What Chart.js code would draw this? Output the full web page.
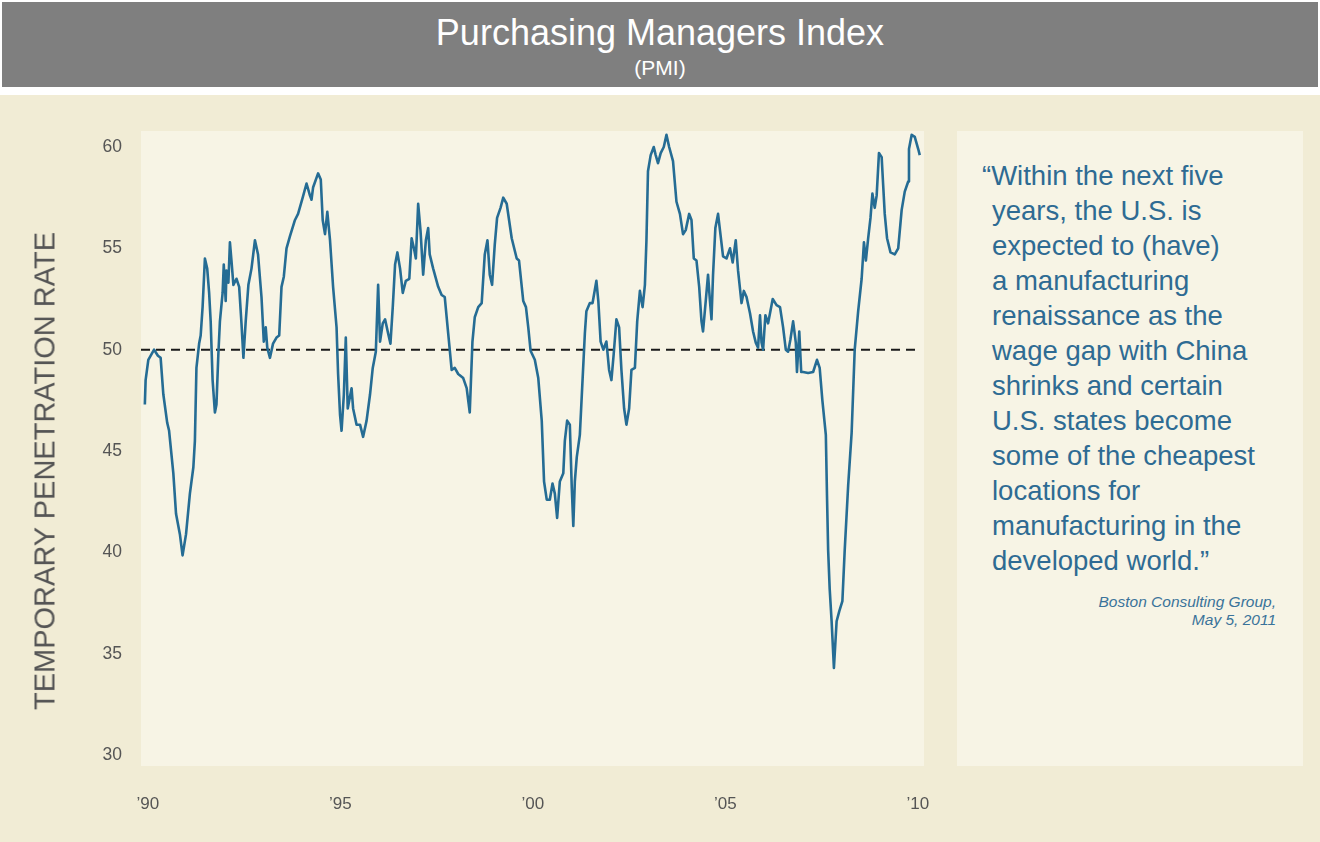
<!DOCTYPE html>
<html>
<head>
<meta charset="utf-8">
<title>Purchasing Managers Index</title>
<script src="https://cdn.jsdelivr.net/npm/chart.js@4/dist/chart.umd.min.js"></script>
<style>
  html, body { margin: 0; padding: 0; }
  body {
    width: 1320px; height: 842px; position: relative; overflow: hidden;
    background: #ffffff; font-family: "Liberation Sans", Arial, sans-serif;
  }
  .header {
    position: absolute; left: 2px; top: 2px; width: 1316px; height: 85px;
    background: #7f7f7f; color: #ffffff; text-align: center;
  }
  .header .main { position: absolute; left: 0; right: 0; top: 10px; font-size: 36px; }
  .header .sub { position: absolute; left: 0; right: 0; top: 54px; font-size: 21px; }
  .panel { position: absolute; left: 0; top: 95px; width: 1320px; height: 747px; background: #f1ecd5; }
  #wrap { position: absolute; left: 0; top: 95px; width: 940px; height: 747px; }
  .ytitle {
    position: absolute; left: 45px; top: 471px; transform: translate(-50%, -50%) rotate(-90deg);
    white-space: nowrap; font-size: 29px; color: #555555;
  }
  .quote {
    position: absolute; left: 957px; top: 131px; width: 346px; height: 635px; background: #f7f4e5;
  }
  .quote p {
    position: absolute; left: 35px; top: 27px; margin: 0; width: 310px;
    font-size: 27.5px; line-height: 35px; color: #2e6b93; text-indent: -10px;
  }
  .quote .src {
    position: absolute; right: 27px; top: 462px; text-align: right;
    font-size: 15.5px; line-height: 18px; font-style: italic; color: #3a739a;
  }
</style>
</head>
<body>
<div class="header">
  <div class="main">Purchasing Managers Index</div>
  <div class="sub">(PMI)</div>
</div>
<div class="panel"></div>
<div id="wrap"><canvas id="pmiChart" width="940" height="747"></canvas></div>
<div class="ytitle">TEMPORARY PENETRATION RATE</div>
<div class="quote">
  <p>“Within the next five<br>years, the U.S. is<br>expected to (have)<br>a manufacturing<br>renaissance as the<br>wage gap with China<br>shrinks and certain<br>U.S. states become<br>some of the cheapest<br>locations for<br>manufacturing in the<br>developed world.”</p>
  <div class="src">Boston Consulting Group,<br>May 5, 2011</div>
</div>

<script>
// ── Data ────────────────────────────────────────────────────────────────────
const xTicks = [1990, 1995, 2000, 2005, 2010];
const xTickLabels = ['’90', '’95', '’00', '’05', '’10'];
const yTicks = [30, 35, 40, 45, 50, 55, 60];

const dates = [
  1989.92, 1989.94, 1990.01, 1990.16, 1990.26, 1990.33, 1990.40, 1990.50, 1990.55, 1990.66,
  1990.73, 1990.83, 1990.90, 1990.99, 1991.09, 1991.18, 1991.22, 1991.26, 1991.33, 1991.37,
  1991.42, 1991.48, 1991.54, 1991.59, 1991.63, 1991.68, 1991.74, 1991.78, 1991.83, 1991.87,
  1991.94, 1991.97, 1992.02, 1992.04, 1992.09, 1992.13, 1992.17, 1992.22, 1992.30, 1992.37,
  1992.43, 1992.48, 1992.54, 1992.61, 1992.69, 1992.78, 1992.86, 1992.95, 1993.01, 1993.06,
  1993.10, 1993.17, 1993.25, 1993.34, 1993.41, 1993.47, 1993.53, 1993.60, 1993.69, 1993.82,
  1993.90, 1994.02, 1994.12, 1994.21, 1994.25, 1994.29, 1994.42, 1994.49, 1994.54, 1994.60,
  1994.66, 1994.73, 1994.81, 1994.90, 1994.94, 1994.99, 1995.03, 1995.09, 1995.14, 1995.19,
  1995.29, 1995.33, 1995.42, 1995.51, 1995.59, 1995.68, 1995.77, 1995.84, 1995.92, 1995.98,
  1996.03, 1996.10, 1996.16, 1996.24, 1996.30, 1996.36, 1996.42, 1996.48, 1996.55, 1996.62,
  1996.70, 1996.79, 1996.85, 1996.91, 1996.96, 1997.02, 1997.08, 1997.15, 1997.22, 1997.28,
  1997.32, 1997.41, 1997.54, 1997.63, 1997.71, 1997.80, 1997.89, 1997.97, 1998.06, 1998.19,
  1998.28, 1998.36, 1998.43, 1998.49, 1998.58, 1998.67, 1998.75, 1998.82, 1998.88, 1998.94,
  1999.01, 1999.07, 1999.16, 1999.23, 1999.32, 1999.45, 1999.58, 1999.64, 1999.75, 1999.82,
  1999.88, 1999.94, 2000.05, 2000.14, 2000.23, 2000.29, 2000.36, 2000.44, 2000.51, 2000.57,
  2000.63, 2000.70, 2000.79, 2000.83, 2000.89, 2000.96, 2001.01, 2001.05, 2001.09, 2001.14,
  2001.22, 2001.29, 2001.35, 2001.39, 2001.48, 2001.55, 2001.65, 2001.70, 2001.76, 2001.83,
  2001.91, 2001.98, 2002.04, 2002.10, 2002.17, 2002.24, 2002.30, 2002.37, 2002.43, 2002.50,
  2002.56, 2002.65, 2002.71, 2002.78, 2002.85, 2002.91, 2002.95, 2002.99, 2003.06, 2003.14,
  2003.19, 2003.25, 2003.32, 2003.40, 2003.47, 2003.54, 2003.64, 2003.73, 2003.82, 2003.90,
  2003.97, 2004.06, 2004.12, 2004.18, 2004.25, 2004.32, 2004.38, 2004.42, 2004.49, 2004.55,
  2004.60, 2004.64, 2004.68, 2004.74, 2004.81, 2004.94, 2005.03, 2005.12, 2005.19, 2005.27,
  2005.33, 2005.42, 2005.48, 2005.55, 2005.64, 2005.72, 2005.79, 2005.85, 2005.90, 2005.94,
  2005.98, 2006.04, 2006.11, 2006.16, 2006.23, 2006.33, 2006.42, 2006.50, 2006.57, 2006.63,
  2006.69, 2006.76, 2006.83, 2006.86, 2006.92, 2006.97, 2007.02, 2007.15, 2007.28, 2007.38,
  2007.45, 2007.52, 2007.61, 2007.64, 2007.67, 2007.71, 2007.76, 2007.82, 2007.89, 2007.96,
  2008.04, 2008.10, 2008.19, 2008.28, 2008.36, 2008.45, 2008.54, 2008.60, 2008.65, 2008.71,
  2008.77, 2008.82, 2008.88, 2008.93, 2008.99, 2009.06, 2009.10, 2009.14, 2009.20, 2009.29,
  2009.40, 2009.49, 2009.58, 2009.66, 2009.75, 2009.77, 2009.84, 2009.92, 2010.01, 2010.05
];

const pmi = [
  47.3, 48.5, 49.5, 50.0, 49.7, 49.6, 47.8, 46.4, 46.0, 43.9,
  41.9, 40.9, 39.85, 40.9, 42.9, 44.2, 45.5, 49.1, 50.3, 50.7,
  52.1, 54.5, 54.0, 52.8, 51.4, 48.5, 46.9, 47.3, 49.8, 51.4,
  52.8, 54.2, 52.4, 53.9, 53.3, 55.3, 54.4, 53.2, 53.5, 53.1,
  51.3, 49.6, 51.4, 53.2, 54.0, 55.4, 54.7, 52.6, 50.4, 51.1,
  50.1, 49.6, 50.3, 50.6, 50.7, 53.1, 53.6, 55.0, 55.6, 56.4,
  56.7, 57.5, 58.2, 57.6, 57.4, 58.0, 58.7, 58.4, 56.4, 55.7,
  56.8, 55.4, 53.1, 51.1, 48.8, 46.8, 46.0, 47.8, 50.6, 47.1,
  48.1, 47.1, 46.3, 46.3, 45.7, 46.5, 47.8, 49.1, 49.9, 53.2,
  50.4, 51.3, 51.5, 50.8, 50.3, 52.1, 54.2, 54.8, 54.0, 52.8,
  53.4, 53.5, 55.5, 55.0, 54.5, 57.2, 55.9, 53.7, 55.4, 56.0,
  54.7, 54.0, 53.1, 52.7, 52.6, 50.8, 49.0, 49.1, 48.8, 48.6,
  48.1, 46.9, 50.4, 51.6, 52.1, 52.3, 54.7, 55.4, 53.7, 53.2,
  55.2, 56.5, 57.0, 57.5, 57.2, 55.5, 54.5, 54.4, 52.4, 52.1,
  51.1, 49.95, 49.5, 48.6, 46.5, 43.5, 42.6, 42.6, 43.4, 42.9,
  41.7, 43.5, 43.9, 45.5, 46.5, 46.3, 43.2, 41.3, 43.5, 44.7,
  45.8, 48.5, 50.8, 51.9, 52.3, 52.3, 53.4, 52.4, 50.4, 50.0,
  50.4, 49.0, 48.5, 49.8, 51.5, 51.1, 49.0, 47.1, 46.3, 47.1,
  49.0, 49.1, 51.4, 52.9, 52.1, 53.2, 55.4, 58.8, 59.6, 60.0,
  59.6, 59.2, 59.7, 60.0, 60.6, 60.0, 59.3, 57.3, 56.7, 55.7,
  55.9, 56.7, 56.4, 54.5, 54.4, 53.1, 51.4, 50.9, 52.4, 53.7,
  52.4, 51.5, 53.7, 56.0, 56.7, 54.6, 54.5, 55.0, 54.3, 55.4,
  53.9, 52.3, 52.9, 52.6, 51.8, 50.9, 50.35, 50.1, 51.7, 50.35,
  50.0, 51.7, 51.3, 51.8, 52.5, 52.2, 52.1, 51.1, 50.0, 49.9,
  50.5, 51.4, 50.35, 48.9, 50.9, 48.9, 48.9, 48.85, 48.9, 49.5,
  49.1, 47.5, 45.8, 42.8, 40.1, 38.2, 36.6, 34.3, 36.6, 37.1,
  37.6, 40.1, 43.3, 45.9, 50.0, 51.9, 53.5, 55.3, 54.4, 55.5,
  56.5, 57.7, 57.0, 57.6, 59.7, 59.5, 58.1, 56.7, 55.5, 54.8,
  54.7, 55.0, 56.9, 57.8, 58.3, 59.9, 60.6, 60.5, 59.9, 59.6
];

// 50 = expansion / contraction threshold
const refLevel = 50;
const refSpan = [1989.82, 2010.0];

const xRange = [1989.82, 2010.16];
const yRange = [29.46, 60.79];

// ── Plot background ────────────────────────────────────────────────────────
const plotBg = {
  id: 'plotBg',
  beforeDraw(chart) {
    const { ctx, chartArea: a } = chart;
    ctx.save();
    ctx.fillStyle = '#f7f4e5';
    ctx.fillRect(a.left, a.top, a.right - a.left, a.bottom - a.top);
    ctx.restore();
  }
};

new Chart(document.getElementById('pmiChart'), {
  type: 'line',
  data: {
    datasets: [
      {
        label: 'PMI',
        data: dates.map((d, i) => ({ x: d, y: pmi[i] })),
        borderColor: '#256c94',
        borderWidth: 2.6,
        pointRadius: 0,
        tension: 0,
        borderJoinStyle: 'round',
        order: 1
      },
      {
        label: '50',
        data: refSpan.map(d => ({ x: d, y: refLevel })),
        borderColor: '#1a1a1a',
        borderWidth: 2,
        borderDash: [9, 6],
        pointRadius: 0,
        order: 2
      }
    ]
  },
  options: {
    responsive: false,
    animation: false,
    layout: { padding: { top: 36, right: 16, left: 0, bottom: 0 } },
    plugins: { legend: { display: false }, tooltip: { enabled: false } },
    scales: {
      x: {
        type: 'linear',
        min: xRange[0],
        max: xRange[1],
        afterBuildTicks: s => { s.ticks = xTicks.map(v => ({ value: v })); },
        afterFit: s => { s.height = 76; s.paddingLeft = 0; s.paddingRight = 0; },
        grid: { display: false, drawTicks: false },
        border: { display: false },
        ticks: {
          autoSkip: false, maxRotation: 0, padding: 28,
          color: '#555555', font: { family: 'Liberation Sans', size: 17 },
          callback: v => xTickLabels[xTicks.indexOf(v)]
        }
      },
      y: {
        min: yRange[0],
        max: yRange[1],
        afterBuildTicks: s => { s.ticks = yTicks.map(v => ({ value: v })); },
        afterFit: s => { s.width = 141; s.paddingTop = 0; s.paddingBottom = 0; },
        grid: { display: false, drawTicks: false },
        border: { display: false },
        ticks: {
          padding: 19,
          color: '#555555', font: { family: 'Liberation Sans', size: 17.5 }
        }
      }
    }
  },
  plugins: [plotBg]
});
</script>
</body>
</html>
